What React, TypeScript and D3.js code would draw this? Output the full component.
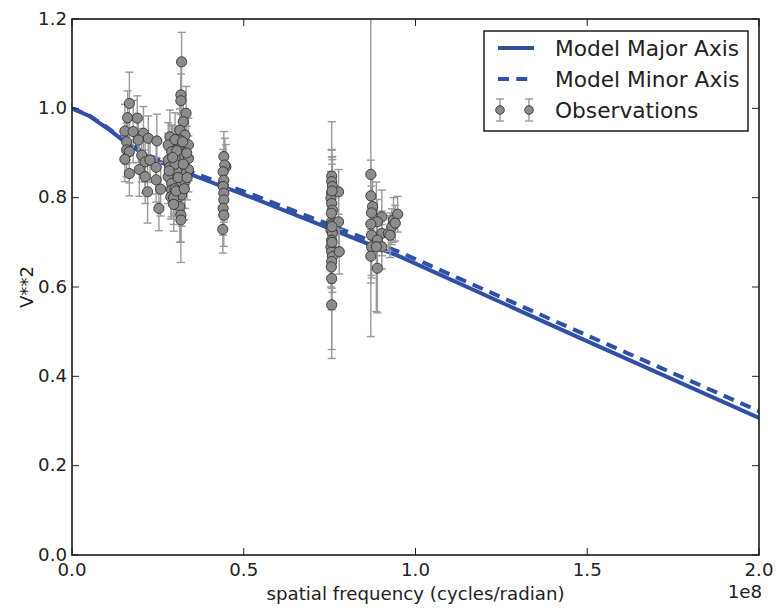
import React from "react";
import * as d3 from "d3";

// Model curves (frequency in units of 1e8 cycles/radian)
const modelFreq = [0, 0.05, 0.11, 0.154, 0.227, 0.373, 0.518, 0.955, 1.478, 2.0];
const modelMajor = [1.0, 0.983, 0.951, 0.925, 0.889, 0.844, 0.802, 0.668, 0.486, 0.307];
const modelMinor = [1.0, 0.984, 0.953, 0.928, 0.893, 0.850, 0.809, 0.678, 0.499, 0.322];

// Observations: frequency (1e8), V**2, error
const obsFreq = [
  // cluster A
  0.167, 0.162, 0.190, 0.154, 0.178, 0.208, 0.222, 0.247, 0.159, 0.159, 0.193, 0.167, 0.203, 0.154, 0.213, 0.227, 0.196, 0.245, 0.167, 0.213, 0.245, 0.220, 0.258, 0.253,
  // cluster B
  0.319, 0.317, 0.317, 0.332, 0.324, 0.314, 0.285, 0.329, 0.314, 0.280, 0.339, 0.290, 0.316, 0.280, 0.314, 0.339, 0.285, 0.314, 0.339, 0.280, 0.319, 0.290, 0.329, 0.290, 0.319, 0.288, 0.314, 0.317, 0.317, 0.300, 0.305, 0.300, 0.309, 0.296,
  0.300, 0.305, 0.300, 0.309, 0.303, 0.296, 0.324, 0.327, 0.334, 0.322, 0.283, 0.293, 0.335,
  // cluster C
  0.442, 0.448, 0.445, 0.440, 0.442, 0.440, 0.442, 0.442, 0.440, 0.442, 0.439,
  // cluster D
  0.756, 0.756, 0.758, 0.756, 0.754, 0.756, 0.758, 0.756, 0.756, 0.754, 0.758, 0.756, 0.754, 0.756, 0.758, 0.756, 0.756, 0.756, 0.776, 0.776, 0.778,
  0.757, 0.755, 0.757, 0.755, 0.757,
  // cluster E
  0.870, 0.870, 0.875, 0.872, 0.902, 0.889, 0.870, 0.902, 0.872, 0.889, 0.872, 0.870, 0.889, 0.902, 0.921, 0.931, 0.936, 0.948, 0.941, 0.926, 0.886,
];
const obsV2 = [
  1.011, 0.979, 0.978, 0.949, 0.948, 0.944, 0.933, 0.927, 0.925, 0.907, 0.929, 0.903, 0.895, 0.886, 0.880, 0.884, 0.863, 0.868, 0.854, 0.847, 0.840, 0.813, 0.819, 0.776,
  1.104, 1.030, 1.017, 0.989, 0.970, 0.951, 0.936, 0.940, 0.929, 0.918, 0.918, 0.903, 0.907, 0.884, 0.888, 0.888, 0.869, 0.871, 0.863, 0.847, 0.854, 0.832, 0.836, 0.817, 0.806, 0.802, 0.780, 0.761, 0.750, 0.890, 0.860, 0.820, 0.910, 0.800,
  0.930, 0.905, 0.875, 0.845, 0.815, 0.785, 0.875, 0.820, 0.900, 0.925, 0.860, 0.890, 0.845,
  0.892, 0.869, 0.873, 0.858, 0.839, 0.825, 0.810, 0.795, 0.776, 0.761, 0.729,
  0.848, 0.836, 0.825, 0.810, 0.799, 0.787, 0.772, 0.746, 0.739, 0.728, 0.720, 0.705, 0.690, 0.679, 0.668, 0.657, 0.619, 0.560, 0.813, 0.746, 0.679,
  0.815, 0.765, 0.700, 0.645, 0.735,
  0.852, 0.804, 0.780, 0.766, 0.757, 0.746, 0.741, 0.720, 0.716, 0.705, 0.690, 0.669, 0.642, 0.690, 0.720, 0.735, 0.750, 0.763, 0.743, 0.716, 0.690,
];
const obsErr = [
  0.07, 0.06, 0.05, 0.06, 0.07, 0.06, 0.05, 0.06, 0.05, 0.06, 0.05, 0.07, 0.06, 0.05, 0.07, 0.05, 0.06, 0.06, 0.05, 0.06, 0.05, 0.07, 0.06, 0.05,
  0.066, 0.07, 0.06, 0.06, 0.05, 0.06, 0.06, 0.05, 0.07, 0.05, 0.06, 0.06, 0.08, 0.06, 0.05, 0.05, 0.06, 0.07, 0.05, 0.06, 0.06, 0.05, 0.06, 0.06, 0.07, 0.05, 0.08, 0.06, 0.095, 0.06, 0.05, 0.06, 0.05, 0.06,
  0.06, 0.05, 0.07, 0.06, 0.05, 0.06, 0.05, 0.07, 0.06, 0.05, 0.06, 0.07, 0.05,
  0.056, 0.05, 0.06, 0.05, 0.06, 0.05, 0.06, 0.05, 0.06, 0.07, 0.053,
  0.06, 0.07, 0.06, 0.08, 0.06, 0.07, 0.12, 0.08, 0.06, 0.07, 0.1, 0.265, 0.09, 0.07, 0.08, 0.06, 0.07, 0.1, 0.05, 0.06, 0.05,
  0.06, 0.07, 0.06, 0.08, 0.06,
  0.363, 0.08, 0.07, 0.06, 0.06, 0.05, 0.06, 0.05, 0.09, 0.06, 0.07, 0.06, 0.1, 0.05, 0.04, 0.04, 0.05, 0.04, 0.04, 0.05, 0.145,
];

const xTicks = [0, 0.5, 1.0, 1.5, 2.0];
const yTicks = [0, 0.2, 0.4, 0.6, 0.8, 1.0, 1.2];
const legendLabels = ["Model Major Axis", "Model Minor Axis", "Observations"];

const W = 778, H = 613;
const L = 72, R = 759, T = 19, B = 555;
const FONT = "DejaVu Sans";
const BLUE = "#2f50a6";
const FS = 18.2;

export default function App() {
  const x = d3.scaleLinear().domain([0, 2]).range([L, R]);
  const y = d3.scaleLinear().domain([0, 1.2]).range([B, T]);
  const line = d3.line<number>().x((_, i) => x(modelFreq[i])).y((d) => y(d));
  const tickLen = 7;
  const obs = obsFreq.map((f, i) => ({ f, v: obsV2[i], e: obsErr[i] }));

  return (
    <svg width={W} height={H} style={{ position: "absolute", left: 0, top: 0, background: "#fff" }} fontFamily={FONT}>
      <defs>
        <clipPath id="plot">
          <rect x={L} y={T} width={R - L} height={B - T} />
        </clipPath>
      </defs>
      <rect x={0} y={0} width={W} height={H} fill="#fff" />
      <g clipPath="url(#plot)">
        <path d={line(modelMajor) || ""} fill="none" stroke={BLUE} strokeWidth={4} />
        <path d={line(modelMinor) || ""} fill="none" stroke={BLUE} strokeWidth={4} strokeDasharray="11 7.3" />
        {obs.map((o, i) => (
          <g key={"e" + i} stroke="#999" strokeWidth={1.4}>
            <line x1={x(o.f)} x2={x(o.f)} y1={y(o.v + o.e)} y2={y(o.v - o.e)} />
            <line x1={x(o.f) - 4} x2={x(o.f) + 4} y1={y(o.v + o.e)} y2={y(o.v + o.e)} />
            <line x1={x(o.f) - 4} x2={x(o.f) + 4} y1={y(o.v - o.e)} y2={y(o.v - o.e)} />
          </g>
        ))}
        {obs.map((o, i) => (
          <circle key={"m" + i} cx={x(o.f)} cy={y(o.v)} r={5.1} fill="#8c8c8c" stroke="#333" strokeWidth={0.9} />
        ))}
      </g>
      {xTicks.map((t) => (
        <g key={"xt" + t} stroke="#222" strokeWidth={1}>
          <line x1={x(t)} x2={x(t)} y1={B} y2={B - tickLen} />
          <line x1={x(t)} x2={x(t)} y1={T} y2={T + tickLen} />
        </g>
      ))}
      {yTicks.map((t) => (
        <g key={"yt" + t} stroke="#222" strokeWidth={1}>
          <line x1={L} x2={L + tickLen} y1={y(t)} y2={y(t)} />
          <line x1={R} x2={R - tickLen} y1={y(t)} y2={y(t)} />
        </g>
      ))}
      <rect x={L} y={T} width={R - L} height={B - T} fill="none" stroke="#1a1a1a" strokeWidth={1.6} />
      {xTicks.map((t) => (
        <text key={"xl" + t} x={x(t)} y={576} textAnchor="middle" fontSize={FS} fill="#222">
          {t.toFixed(1)}
        </text>
      ))}
      {yTicks.map((t) => (
        <text key={"yl" + t} x={67} y={y(t) + 5.5} textAnchor="end" fontSize={FS} fill="#222">
          {t.toFixed(1)}
        </text>
      ))}
      <text x={(L + R) / 2} y={600} textAnchor="middle" fontSize={FS} fill="#222">
        spatial frequency (cycles/radian)
      </text>
      <text x={762} y={598} textAnchor="end" fontSize={FS} fill="#222">1e8</text>
      <text transform={`translate(33,${(T + B) / 2}) rotate(-90)`} textAnchor="middle" fontSize={FS} fill="#222">
        V**2
      </text>
      <rect x={484} y={31} width={264} height={100} fill="#fff" stroke="#1a1a1a" strokeWidth={1.5} />
      <line x1={498} x2={534} y1={48} y2={48} stroke={BLUE} strokeWidth={4} />
      <line x1={498} x2={534} y1={79} y2={79} stroke={BLUE} strokeWidth={4} strokeDasharray="11 7.3" />
      {[500, 529].map((lx) => (
        <g key={"lg" + lx}>
          <g stroke="#999" strokeWidth={1.4}>
            <line x1={lx} x2={lx} y1={99} y2={121} />
            <line x1={lx - 4} x2={lx + 4} y1={99} y2={99} />
            <line x1={lx - 4} x2={lx + 4} y1={121} y2={121} />
          </g>
          <circle cx={lx} cy={110} r={4.3} fill="#8c8c8c" stroke="#333" strokeWidth={0.9} />
        </g>
      ))}
      {legendLabels.map((lab, i) => (
        <text key={lab} x={555} y={48 + i * 31 + 7.5} fontSize={21.7} fill="#222">
          {lab}
        </text>
      ))}
    </svg>
  );
}
